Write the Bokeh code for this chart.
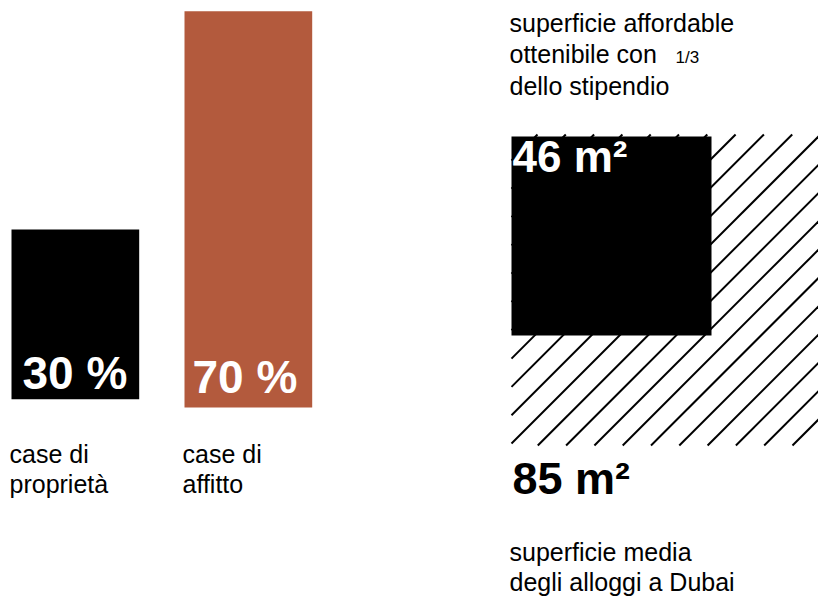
import numpy as np
from bokeh.plotting import figure
from bokeh.models import Range1d
from bokeh.core.properties import value
from bokeh.embed import file_html
from bokeh.resources import INLINE

# ---- data ----
categories = ["case di\nproprietà", "case di\naffitto"]
shares = [30, 70]
share_labels = ["30 %", "70 %"]
bar_colors = ["#000000", "#B35A3D"]

areas = [85, 46]
area_labels = ["85 m²", "46 m²"]
affordable_note = ["superficie affordable", "ottenibile con", "dello stipendio"]
fraction_label = "1/3"
average_note = ["superficie media", "degli alloggi a Dubai"]

# ---- layout constants (picture pixel coordinates) ----
FONT = "Liberation Sans"
BL = 0.39  # baseline correction (fraction of font size)
px_per_pct = 5.66
bar_left = [11, 184]
bar_width = 127.7
bar_bottom = [398.7, 407]

sq_left = 511
sq_top = 134
sq_side = {85: 312, 46: 200}
hatch_step = 28.3
hatch_phase = 954


def base(y, fs):
    return y - BL * fs


p = figure(width=818, height=597, x_range=Range1d(0, 818), y_range=Range1d(597, 0),
           output_backend="svg", toolbar_location=None, x_axis_type=None, y_axis_type=None,
           min_border=0, outline_line_color=None)
p.grid.visible = False
p.background_fill_color = "white"
p.border_fill_color = "white"

# bars
lefts = bar_left
rights = [l + bar_width for l in bar_left]
bottoms = bar_bottom
tops = [b - s * px_per_pct for b, s in zip(bar_bottom, shares)]
p.quad(left=lefts, right=rights, bottom=bottoms, top=tops, fill_color=bar_colors, line_color=None)

# share labels
p.text(x=[bar_left[0] + 11, bar_left[1] + 8], y=[base(390, 46), base(394, 46)], text=share_labels,
       text_color="white", text_font=value(FONT), text_font_style="bold",
       text_font_size="46px", text_baseline="alphabetic", text_align="left")

# category labels
for i, cat in enumerate(categories):
    lines = cat.split("\n")
    p.text(x=[bar_left[i] - 2] * len(lines), y=[base(463 + 30 * k, 25) for k in range(len(lines))],
           text=lines, text_color="black", text_font=value(FONT), text_font_size="25px",
           text_baseline="alphabetic", text_align="left")

# hatched square (average area) built from 45-degree lines clipped to the square
big, small = areas
x0, x1 = sq_left, sq_left + sq_side[big]
y0, y1 = sq_top, sq_top + sq_side[big] - 1
xs, ys = [], []
kmin = int(np.floor((x0 + y0 - hatch_phase) / hatch_step)) - 1
kmax = int(np.ceil((x1 + y1 - hatch_phase) / hatch_step)) + 1
for k in range(kmin, kmax + 1):
    c = hatch_phase + k * hatch_step
    xa = max(x0, c - y1)
    xb = min(x1, c - y0)
    if xb > xa:
        xs.append([xa, xb])
        ys.append([c - xa, c - xb])
p.multi_line(xs=xs, ys=ys, line_color="black", line_width=2)

# filled square (affordable area)
p.quad(left=[sq_left], right=[sq_left + sq_side[small]], top=[sq_top + 2], bottom=[sq_top + 1 + sq_side[small]],
       fill_color="black", line_color=None)

p.text(x=[sq_left + 1], y=[base(173, 44)], text=[area_labels[1]], text_color="white",
       text_font=value(FONT), text_font_style="bold", text_font_size="44px",
       text_baseline="alphabetic", text_align="left")
p.text(x=[sq_left + 1], y=[base(496, 45)], text=[area_labels[0]], text_color="black",
       text_font=value(FONT), text_font_style="bold", text_font_size="45px",
       text_baseline="alphabetic", text_align="left")

# notes
p.text(x=[509] * 3, y=[base(v, 25) for v in (32, 63.5, 95)], text=affordable_note, text_color="black",
       text_font=value(FONT), text_font_size="25px", text_baseline="alphabetic", text_align="left")
p.text(x=[675], y=[base(63.5, 17)], text=[fraction_label], text_color="black",
       text_font=value(FONT), text_font_size="17px", text_baseline="alphabetic", text_align="left")
p.text(x=[509] * 2, y=[base(v, 25) for v in (561, 591)], text=average_note, text_color="black",
       text_font=value(FONT), text_font_size="25px", text_baseline="alphabetic", text_align="left")

open("out.html", "w").write(file_html(p, INLINE))
